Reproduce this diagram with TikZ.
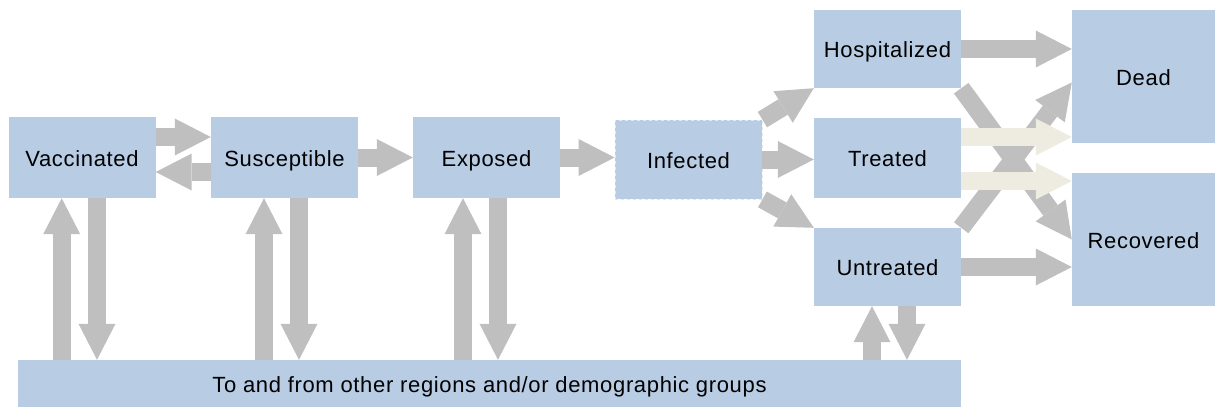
\documentclass[tikz,border=0pt]{standalone}
\usepackage{fontspec}
\setmainfont[LetterSpace=3]{Liberation Sans}
\usetikzlibrary{arrows.meta}
\begin{document}
\begin{tikzpicture}[x=1pt,y=-1pt]
\definecolor{boxblue}{HTML}{B8CCE4}
\definecolor{flowgray}{HTML}{BFBFBF}
\definecolor{flowcream}{HTML}{EEECE1}
\tikzset{
  compartment/.style = {fill = boxblue, draw = none, inner sep = 0pt, minimum width = 147pt, minimum height = 80pt, text height = 17.5pt, text depth = 0pt, font = \fontsize{22}{26}\selectfont},
  flow/.style = {draw = flowgray, line width = 18pt, -{Triangle[length = 36pt, width = 37pt, line width = 0pt]}},
  lightflow/.style = {flow, draw = flowcream}
}
\useasboundingbox (0,0) rectangle (1215,408);
\node[compartment, minimum height = 81pt] (vac) at (82,157.5) {Vaccinated};
\node[compartment, minimum height = 81pt] (sus) at (284.5,157.5) {Susceptible};
\node[compartment, minimum height = 81pt] (exp) at (486.5,157.5) {Exposed};
\node[compartment, minimum height = 79pt, draw = white!55!boxblue, dashed, line width = 0.8pt] (inf) at (688.5,159.5) {Infected};
\node[compartment, minimum height = 78pt] (hosp) at (887.5,49) {Hospitalized};
\node[compartment] (trt) at (887.5,158) {Treated};
\node[compartment, minimum height = 78pt] (untr) at (887.5,267) {Untreated};
\node[compartment, minimum width = 143pt, minimum height = 133pt] (dead) at (1143.5,76.5) {Dead};
\node[compartment, minimum width = 143pt, minimum height = 133pt] (rec) at (1143.5,239.5) {Recovered};
\node[compartment, minimum width = 943pt, minimum height = 47pt] (region) at (489.5,383.5) {To and from other regions and/or demographic groups};
\draw[flow] ([yshift = 20.5pt]vac.east) -- ([yshift = 20.5pt]sus.west);
\draw[flow] ([yshift = -14.5pt]sus.west) -- ([yshift = -14.5pt]vac.east);
\draw[flow] (sus.east) -- (exp.west);
\draw[flow] (exp.east) -- (exp.east -| inf.west);
\draw[flow] (inf.east) -- (inf.east -| trt.west);
\draw[flow] (inf.north east) -- (hosp.south west);
\draw[flow] (inf.south east) -- (untr.north west);
\draw[flow] (hosp.east) -- (hosp.east -| dead.west);
\draw[flow] (untr.east) -- (untr.east -| rec.west);
\draw[flow] (hosp.south east) -- (rec.west);
\draw[flow] (untr.north east) -- ([yshift = -6pt]dead.west);
\coordinate (trtup) at ([yshift = 21pt]trt.east);
\coordinate (trtdown) at ([yshift = -23pt]trt.east);
\draw[lightflow] (trtup) -- (trtup -| dead.west);
\draw[lightflow] (trtdown) -- (trtdown -| rec.west);
\foreach \cmp/\up/\down in {vac/-20.3/15, sus/-20.5/14.5, exp/-23.5/11.5, untr/-15.5/19.5} {
  \draw[flow] ([xshift = \up pt]\cmp.south |- region.north) -- ([xshift = \up pt]\cmp.south);
  \draw[flow] ([xshift = \down pt]\cmp.south) -- ([xshift = \down pt]\cmp.south |- region.north);
}
\end{tikzpicture}
\end{document}
